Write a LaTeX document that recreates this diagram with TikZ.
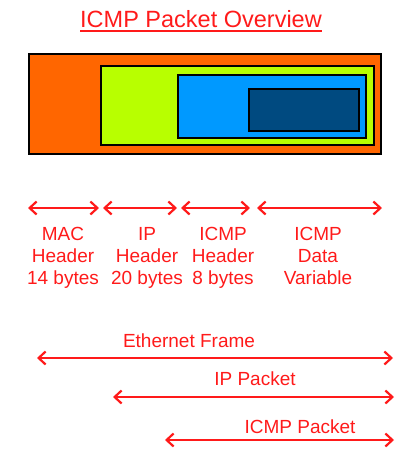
\documentclass[tikz,border=0pt]{standalone}
\usepackage{fontspec}
\setmainfont{Liberation Sans}
\usetikzlibrary{arrows.meta}
\definecolor{ethfill}{HTML}{FF6600}
\definecolor{ipfill}{HTML}{B8FF00}
\definecolor{icmpfill}{HTML}{0099FF}
\definecolor{datafill}{HTML}{004A80}
\definecolor{labelred}{HTML}{FF1A1A}

\begin{document}
\begin{tikzpicture}[
  x = 1pt, y = -1pt,
  box/.style = {draw = black, line width = 2.5pt},
  span/.style = {draw = labelred, line width = 2.2pt,
                 {Straight Barb[length = 7pt, width = 13pt]}-{Straight Barb[length = 7pt, width = 13pt]}},
  every node/.style = {text = labelred, inner sep = 0pt, align = center, anchor = base,
                       font = \fontsize{19}{22}\selectfont},
  ]
  \useasboundingbox (0,0) rectangle (413,464);

  % title
  \node[font = \fontsize{23.5}{26}\selectfont] (title) at (201,27) {ICMP Packet Overview};
  \draw[labelred, line width = 1.3pt] ([yshift = -4pt]title.base west) -- ([yshift = -4pt]title.base east);

  % nested frames
  \draw[box, fill = ethfill]  (29,54)  rectangle (381,154);
  \draw[box, fill = ipfill]   (101,66) rectangle (374,145);
  \draw[box, fill = icmpfill] (178,75) rectangle (366,138);
  \draw[box, fill = datafill] (249,89) rectangle (359,131);

  % field sizes
  \coordinate (mac-l)  at (28,208);  \coordinate (mac-r)  at (99,208);
  \coordinate (ip-l)   at (103,208); \coordinate (ip-r)   at (177,208);
  \coordinate (icmp-l) at (181,208); \coordinate (icmp-r) at (250,208);
  \coordinate (data-l) at (257,208); \coordinate (data-r) at (382,208);
  \draw[span] (mac-l) -- (mac-r);
  \draw[span] (ip-l) -- (ip-r);
  \draw[span] (icmp-l) -- (icmp-r);
  \draw[span] (data-l) -- (data-r);

  % base anchor sits on the last line
  \node (mac)  at (63,284)  {MAC\\Header\\14 bytes};
  \node (ip)   at (147,284) {IP\\Header\\20 bytes};
  \node (icmp) at (223,284) {ICMP\\Header\\8 bytes};
  \node (data) at (318,284) {ICMP\\Data\\Variable};

  % encapsulation spans
  \node (eth-lbl)     at (189,347) {Ethernet Frame};
  \node (ippkt-lbl)   at (255,385) {IP Packet};
  \node (icmppkt-lbl) at (300,433) {ICMP Packet};
  \coordinate (eth-l)     at (37,358);  \coordinate (eth-r)     at (393,358);
  \coordinate (ippkt-l)   at (113,397); \coordinate (ippkt-r)   at (394,397);
  \coordinate (icmppkt-l) at (165,440); \coordinate (icmppkt-r) at (394,440);
  \draw[span] (eth-l) -- (eth-r);
  \draw[span] (ippkt-l) -- (ippkt-r);
  \draw[span] (icmppkt-l) -- (icmppkt-r);
\end{tikzpicture}
\end{document}
